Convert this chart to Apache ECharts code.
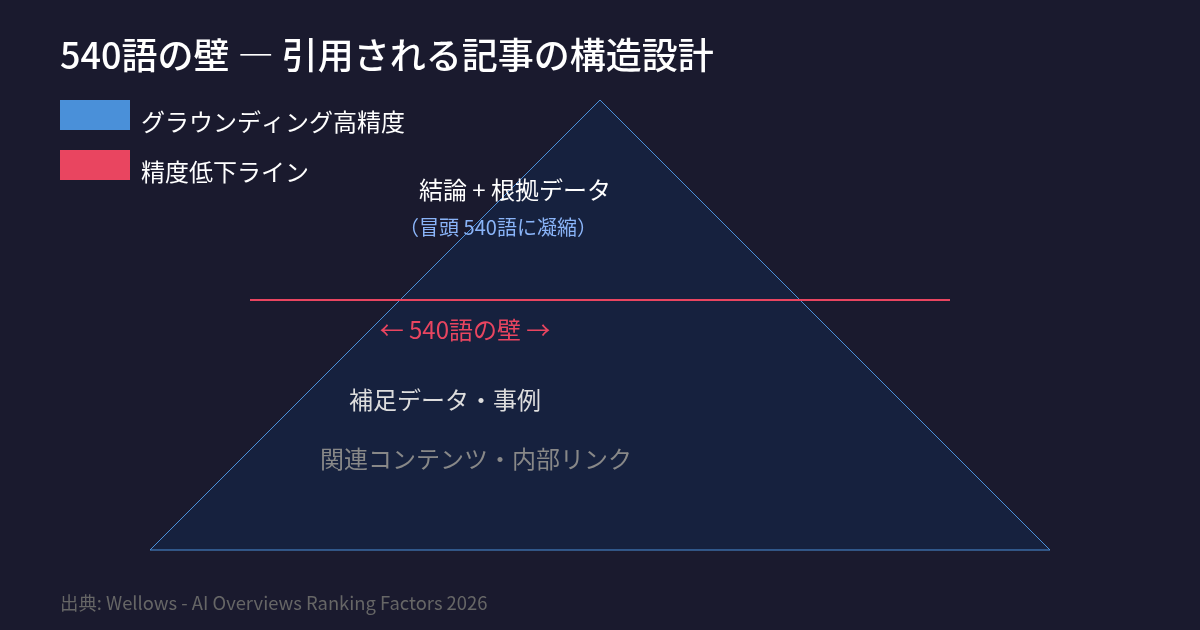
<!DOCTYPE html>
<html>
<head>
<meta charset="utf-8">
<script src="https://cdn.jsdelivr.net/npm/echarts@6/dist/echarts.min.js"></script>
<style>
  html, body { margin: 0; padding: 0; background: #1a1a2e; }
  #main { width: 1200px; height: 630px; }
</style>
</head>
<body>
<div id="main"></div>
<script>
// データ
const seriesNames = ['グラウンディング高精度', '精度低下ライン']
const pyramid = [[0, 0], [450, 450], [900, 0]]     // ピラミッドの三点
const wallLine = [[100, 250], [800, 250]]           // 540語の壁
const tierTexts = ['結論 + 根拠データ', '（冒頭 540語に凝縮）', '← 540語の壁 →', '補足データ・事例', '関連コンテンツ・内部リンク']

const font = '"Noto Sans CJK JP", "Noto Sans", sans-serif'

var myChart = echarts.init(document.getElementById('main'))

// 段ごとのラベル
const tierStyles = [
  { x: 515, y: 190, size: 24, color: '#ffffff' },
  { x: 498, y: 227, size: 20, color: '#8ab4f8' },
  { x: 465, y: 330, size: 24, color: '#e94560' },
  { x: 445, y: 400, size: 24, color: '#dddddd' },
  { x: 476, y: 459, size: 24, color: '#888888' },
]

var option = {
  backgroundColor: '#1a1a2e',
  animation: false,
  title: [
    {
      text: '540語の壁 ― 引用される記事の構造設計',
      left: 60, top: 37, padding: 0,
      textStyle: { color: '#ffffff', fontSize: 36, fontWeight: 500, fontFamily: font },
    },
    {
      text: '出典: Wellows - AI Overviews Ranking Factors 2026',
      left: 60, top: 594, padding: 0,
      textStyle: { color: '#666666', fontSize: 18.4, fontWeight: 'normal', fontFamily: font },
    },
  ],
  legend: {
    orient: 'vertical',
    left: 60, top: 96, padding: 0,
    itemWidth: 70, itemHeight: 30, itemGap: 12,
    icon: 'rect',
    data: [
      { name: seriesNames[0], itemStyle: { color: '#4a90d9' } },
      { name: seriesNames[1], itemStyle: { color: '#e94560' } },
    ],
    formatter: '{a|{name}}',
    textStyle: {
      color: '#ffffff', fontSize: 24, fontFamily: font,
      rich: { a: { color: '#ffffff', fontSize: 24, lineHeight: 30, fontFamily: font, padding: [14, 0, 0, 6] } },
    },
    selectedMode: false,
  },
  grid: { left: 150, top: 100, width: 900, height: 450 },
  xAxis: { type: 'value', min: 0, max: 900, show: false },
  yAxis: { type: 'value', min: 0, max: 450, show: false },
  series: [
    {
      name: seriesNames[0],
      type: 'custom',
      data: [0],
      itemStyle: { color: '#4a90d9' },
      renderItem: function (params, api) {
        return {
          type: 'polygon',
          shape: { points: pyramid.map(p => api.coord(p)) },
          style: { fill: '#16213e', stroke: '#4a90d9', lineWidth: 1 },
        }
      },
      z: 1,
    },
    {
      name: seriesNames[1],
      type: 'line',
      data: wallLine,
      symbol: 'none',
      lineStyle: { color: '#e94560', width: 2 },
      itemStyle: { color: '#e94560' },
      z: 2,
    },
  ],
  graphic: tierTexts.map((t, i) => ({
    type: 'text',
    x: tierStyles[i].x,
    y: tierStyles[i].y,
    z: 10,
    style: {
      text: t,
      fill: tierStyles[i].color,
      fontSize: tierStyles[i].size,
      fontFamily: font,
      align: 'center',
      verticalAlign: 'middle',
    },
  })),
}

myChart.setOption(option)
</script>
</body>
</html>
